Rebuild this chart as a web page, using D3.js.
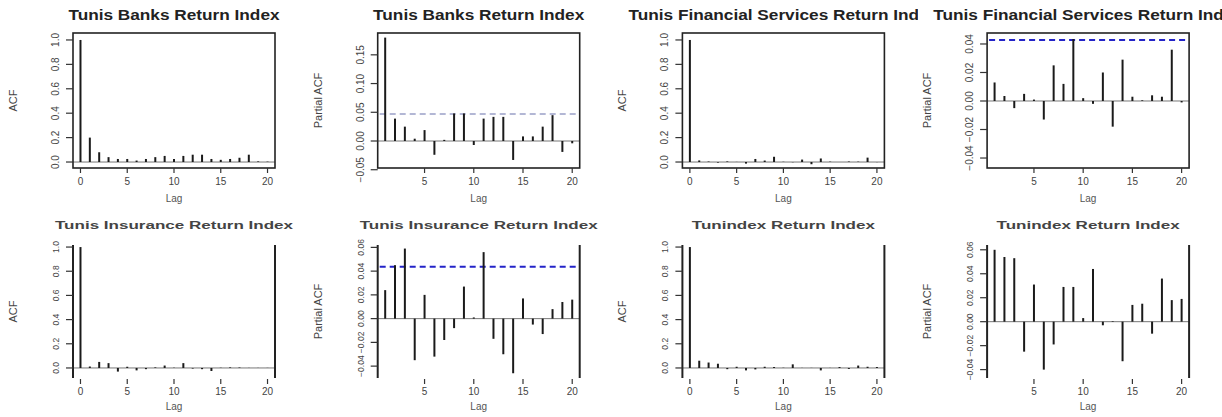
<!DOCTYPE html>
<html>
<head>
<meta charset="utf-8">
<script src="https://cdn.jsdelivr.net/npm/d3@7/dist/d3.min.js"></script>
<style>
  body { margin: 0; background: #fff; }
  svg { display: block; }
  text { font-family: "Liberation Sans", Arial, Helvetica, sans-serif; }
</style>
</head>
<body>
<svg id="chart" width="1222" height="417"></svg>
<script>
// ---- data -------------------------------------------------------------
const acfLags  = d3.range(0, 21);
const pacfLags = d3.range(1, 21);

const banksAcf  = [1, 0.2, 0.08, 0.04, 0.025, 0.025, 0.012, 0.025, 0.04, 0.05, 0.025, 0.05, 0.06, 0.06, 0.025, 0.018, 0.025, 0.035, 0.06, 0.005, 0.003];
const banksPacf = [0.18, 0.039, 0.025, 0.004, 0.019, -0.024, 0.002, 0.048, 0.048, -0.007, 0.039, 0.042, 0.042, -0.033, 0.008, 0.008, 0.025, 0.045, -0.019, -0.004];

const finAcf  = [1, 0.013, 0.004, -0.005, 0.005, 0.001, -0.013, 0.025, 0.012, 0.043, 0.002, -0.002, 0.02, -0.018, 0.029, 0.003, 0, 0.004, 0.003, 0.036, -0.001];
const finPacf = [0.013, 0.0035, -0.005, 0.005, 0.001, -0.013, 0.025, 0.012, 0.0435, 0.002, -0.002, 0.02, -0.018, 0.029, 0.003, 0.0005, 0.004, 0.003, 0.036, -0.001];

const insAcf  = [1, 0.012, 0.05, 0.04, -0.03, 0.01, -0.02, -0.01, 0.005, 0.02, 0.002, 0.04, -0.005, -0.01, -0.025, 0.002, 0.005, 0.004, 0.001, 0.001, 0.001];
const insPacf = [0.024, 0.045, 0.059, -0.035, 0.02, -0.032, -0.018, -0.008, 0.027, 0.001, 0.056, -0.017, -0.03, -0.046, 0.017, -0.005, -0.013, 0.008, 0.014, 0.016];

const tunAcf  = [1, 0.06, 0.045, 0.035, -0.01, 0.01, -0.02, -0.012, 0.01, 0.008, 0.002, 0.03, 0.001, 0.001, -0.02, 0.001, 0.008, -0.008, 0.02, 0.01, 0.008];
const tunPacf = [0.06, 0.054, 0.053, -0.025, 0.031, -0.04, -0.019, 0.029, 0.029, 0.003, 0.044, -0.003, 0.0005, -0.033, 0.014, 0.015, -0.01, 0.036, 0.018, 0.019];

const acfTicks       = [0, 0.2, 0.4, 0.6, 0.8, 1.0];
const banksPacfTicks = [-0.05, 0, 0.05, 0.10, 0.15];
const finPacfTicks   = [-0.04, -0.02, 0, 0.02, 0.04];
const smallPacfTicks = [-0.04, -0.02, 0, 0.02, 0.04, 0.06];
const acfLagTicks    = [0, 5, 10, 15, 20];
const pacfLagTicks   = [5, 10, 15, 20];

// ---- panel definitions -----------------------------------------------
const panels = [
  { col: 0, row: 0, title: "Tunis Banks Return Index", yLabel: "ACF", lags: acfLags, values: banksAcf,
    yDomain: [-0.049, 1.057], yTicks: acfTicks, fmt: ".1f", xDomain: [-0.8, 20.8], xTicks: acfLagTicks, ci: [] },
  { col: 1, row: 0, title: "Tunis Banks Return Index", yLabel: "Partial ACF", lags: pacfLags, values: banksPacf,
    yDomain: [-0.047, 0.188], yTicks: banksPacfTicks, fmt: ".2f", xDomain: [0.24, 20.76], xTicks: pacfLagTicks,
    ci: [0.047], ciColor: "#9aa0c8", ciWidth: 1.3 },
  { col: 2, row: 0, title: "Tunis Financial Services Return Index", yLabel: "ACF", lags: acfLags, values: finAcf,
    yDomain: [-0.049, 1.057], yTicks: acfTicks, fmt: ".1f", xDomain: [-0.8, 20.8], xTicks: acfLagTicks, ci: [] },
  { col: 3, row: 0, title: "Tunis Financial Services Return Index", yLabel: "Partial ACF", lags: pacfLags, values: finPacf,
    yDomain: [-0.047, 0.0477], yTicks: finPacfTicks, fmt: ".2f", xDomain: [0.24, 20.76], xTicks: pacfLagTicks,
    ci: [0.0428], ciColor: "#2323c8", ciWidth: 2 },
  { col: 0, row: 1, title: "Tunis Insurance Return Index", yLabel: "ACF", lags: acfLags, values: insAcf,
    yDomain: [-0.083, 1.017], yTicks: acfTicks, fmt: ".1f", xDomain: [-0.8, 20.8], xTicks: acfLagTicks, ci: [] },
  { col: 1, row: 1, title: "Tunis Insurance Return Index", yLabel: "Partial ACF", lags: pacfLags, values: insPacf,
    yDomain: [-0.050, 0.062], yTicks: smallPacfTicks, fmt: ".2f", xDomain: [0.24, 20.76], xTicks: pacfLagTicks,
    ci: [0.0436], ciColor: "#2323c8", ciWidth: 2 },
  { col: 2, row: 1, title: "Tunindex Return Index", yLabel: "ACF", lags: acfLags, values: tunAcf,
    yDomain: [-0.083, 1.017], yTicks: acfTicks, fmt: ".1f", xDomain: [-0.8, 20.8], xTicks: acfLagTicks, ci: [] },
  { col: 3, row: 1, title: "Tunindex Return Index", yLabel: "Partial ACF", lags: pacfLags, values: tunPacf,
    yDomain: [-0.047, 0.064], yTicks: smallPacfTicks, fmt: ".2f", xDomain: [0.24, 20.76], xTicks: pacfLagTicks, ci: [] }
];

// ---- layout -----------------------------------------------------------
const colStep = 304.7;
const rows = [
  { top: 33,  bottom: 168, fullBox: true,  titleY: 20,  titleSize: 14,   stretch: 1.23,
    tickLabelY: 185, lagY: 202, tickTop: 168, yTickFont: 10 },
  { top: 245, bottom: 378, fullBox: false, titleY: 229, titleSize: 11.5, stretch: 1.48,
    tickLabelY: 395, lagY: 410, tickTop: 379, yTickFont: 8.5 }
];

const svg = d3.select("#chart");
const defs = svg.append("defs");

panels.forEach((p, i) => {
  const r = rows[p.row];
  const colX = p.col * colStep;
  const left = colX + 73, right = colX + 275;
  const x = d3.scaleLinear().domain(p.xDomain).range([left, right]);
  const y = d3.scaleLinear().domain(p.yDomain).range([r.bottom, r.top]);
  const g = svg.append("g");

  // title, clipped to its column
  const clipId = "clip" + i;
  defs.append("clipPath").attr("id", clipId).append("rect")
    .attr("x", colX - 4).attr("y", r.titleY - 20)
    .attr("width", colStep + 8).attr("height", 30);
  const t = g.append("g").attr("clip-path", `url(#${clipId})`).append("text")
    .attr("x", (left + right) / 2).attr("y", r.titleY)
    .attr("text-anchor", "middle")
    .attr("font-weight", "bold")
    .attr("font-size", r.titleSize)
    .attr("fill", p.row === 0 ? "#222" : "#444")
    .text(p.title);
  const natural = t.node().getComputedTextLength();
  t.attr("textLength", natural * r.stretch).attr("lengthAdjust", "spacingAndGlyphs");

  // zero line
  g.append("line")
    .attr("x1", left).attr("x2", right)
    .attr("y1", y(0)).attr("y2", y(0))
    .attr("stroke", "#777").attr("stroke-width", 1);

  // confidence bound
  p.ci.forEach(c => {
    g.append("line")
      .attr("x1", left + 2).attr("x2", right - 2)
      .attr("y1", y(c)).attr("y2", y(c))
      .attr("stroke", p.ciColor).attr("stroke-width", p.ciWidth)
      .attr("stroke-dasharray", "6,4");
  });

  // spikes
  g.selectAll("line.spike").data(p.lags.map((l, k) => ({ lag: l, v: p.values[k] })))
    .join("line").attr("class", "spike")
    .attr("x1", d => x(d.lag)).attr("x2", d => x(d.lag))
    .attr("y1", y(0)).attr("y2", d => y(d.v))
    .attr("stroke", "#1a1a1a").attr("stroke-width", 2);

  // frame
  if (r.fullBox) {
    g.append("rect").attr("x", left).attr("y", r.top)
      .attr("width", right - left).attr("height", r.bottom - r.top)
      .attr("fill", "none").attr("stroke", "#222").attr("stroke-width", 1.6);
  } else {
    [left, right].forEach(xx => g.append("line")
      .attr("x1", xx).attr("x2", xx).attr("y1", r.top).attr("y2", r.bottom)
      .attr("stroke", "#222").attr("stroke-width", 2));
  }

  // y axis ticks and labels
  const fmt = d3.format(p.fmt);
  p.yTicks.forEach(v => {
    g.append("line").attr("x1", left - 7).attr("x2", left)
      .attr("y1", y(v)).attr("y2", y(v))
      .attr("stroke", "#333").attr("stroke-width", 1.2);
    g.append("text")
      .attr("transform", `translate(${left - 14},${y(v)}) rotate(-90)`)
      .attr("text-anchor", "middle").attr("font-size", r.yTickFont).attr("fill", "#444")
      .text(fmt(v));
  });
  g.append("text")
    .attr("transform", `translate(${colX + 17},${(r.top + r.bottom) / 2}) rotate(-90)`)
    .attr("text-anchor", "middle").attr("font-size", 11).attr("fill", "#444")
    .text(p.yLabel);

  // x axis ticks and labels
  p.xTicks.forEach(v => {
    g.append("line").attr("x1", x(v)).attr("x2", x(v))
      .attr("y1", r.tickTop).attr("y2", r.tickTop + 5)
      .attr("stroke", "#333").attr("stroke-width", 1.2);
    g.append("text").attr("x", x(v)).attr("y", r.tickLabelY)
      .attr("text-anchor", "middle").attr("font-size", 10).attr("fill", "#444")
      .text(v);
  });
  g.append("text").attr("x", (left + right) / 2).attr("y", r.lagY)
    .attr("text-anchor", "middle").attr("font-size", 10).attr("fill", "#555")
    .text("Lag");
});
</script>
</body>
</html>
